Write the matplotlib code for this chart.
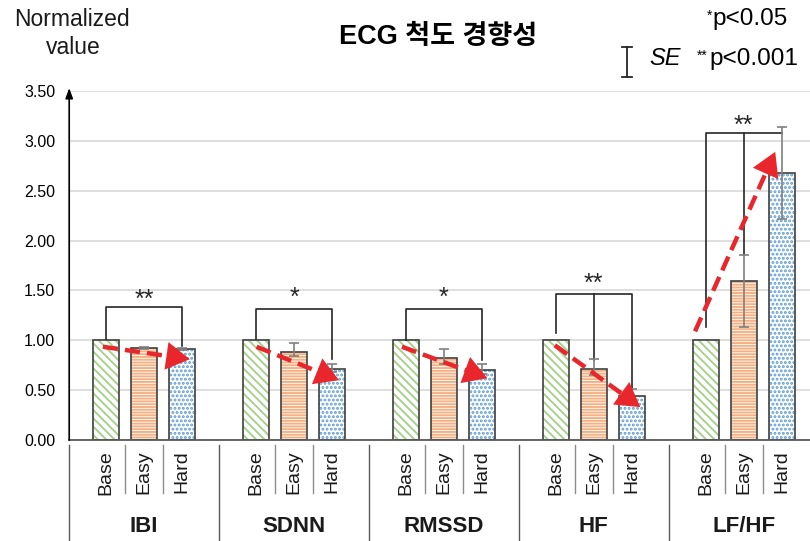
import numpy as np
import matplotlib
matplotlib.use('Agg')
import matplotlib.pyplot as plt
import matplotlib.transforms as mtransforms
from matplotlib.lines import Line2D

plt.rcParams['font.family'] = ['Liberation Sans', 'Noto Sans CJK KR', 'DejaVu Sans']
plt.rcParams['hatch.linewidth'] = 1.4

# 데이터 (Base 기준 정규화 값)
metrics = ['IBI', 'SDNN', 'RMSSD', 'HF', 'LF/HF']
conditions = ['Base', 'Easy', 'Hard']
base_vals = [1.00, 1.00, 1.00, 1.00, 1.00]
easy_vals = [0.92, 0.88, 0.82, 0.715, 1.59]
hard_vals = [0.91, 0.715, 0.70, 0.445, 2.68]
easy_err_lo = [0.01, 0.04, 0.06, 0.065, 0.46]
easy_err_hi = [0.01, 0.09, 0.09, 0.095, 0.265]
hard_err_lo = [0.01, 0.03, 0.04, 0.05, 0.46]
hard_err_hi = [0.01, 0.045, 0.06, 0.065, 0.46]
yticks = [0.0, 0.5, 1.0, 1.5, 2.0, 2.5, 3.0, 3.5]

# 유의성 브래킷
bracket_y = [1.33, 1.31, 1.31, 1.46, 3.08]
bracket_base_end = [1.01, 1.01, 1.00, 1.07, 1.13]
bracket_easy_end = [None, None, None, 0.80, 1.855]
bracket_hard_end = [0.94, 0.81, 0.80, 0.525, 3.08]
stars = ['**', '*', '*', '**', '**']
star_y = [1.48, 1.50, 1.50, 1.64, 3.23]

# 추세 화살표 (그룹 중심 기준 x 오프셋)
arrow_x0 = [-0.275, -0.25, -0.28, -0.26, -0.325]
arrow_x1 = [0.305, 0.30, 0.29, 0.31, 0.21]
arrow_y0 = [0.935, 0.935, 0.935, 0.95, 1.09]
arrow_y1 = [0.81, 0.60, 0.62, 0.33, 2.89]

W, H = 810, 541
fig = plt.figure(figsize=(W / 100, H / 100), dpi=100)
ax = fig.add_axes([69.2 / W, (H - 440) / H, (W - 69.2) / W, 349 / H])


def fx(px):
    return px / W


def fy(py):
    return 1 - py / H


x = np.arange(len(metrics))
off = 0.2535
w = 0.1735
colors = ['#A9D18E', '#F4B183', '#5B9BD5']
hatches = ['\\' * 4, '-' * 6, '.' * 4]

# 막대 (해치 + 테두리)
for vals, dx, col, hatch in zip([base_vals, easy_vals, hard_vals], [-off, 0, off], colors, hatches):
    ax.bar(x + dx, vals, w, color='white', edgecolor=col, linewidth=0, hatch=hatch, zorder=2)
    ax.bar(x + dx, vals, w, fill=False, edgecolor='#404040', linewidth=1.2, zorder=2.5)

# 오차 막대
ax.errorbar(x, easy_vals, yerr=[easy_err_lo, easy_err_hi], fmt='none', ecolor='#808080',
            elinewidth=1.2, capsize=3.5, capthick=1.2, zorder=4)
ax.errorbar(x + off, hard_vals, yerr=[hard_err_lo, hard_err_hi], fmt='none', ecolor='#808080',
            elinewidth=1.2, capsize=3.5, capthick=1.2, zorder=4)

ax.set_xlim(-0.5, (W - 69.2) / 149.9 - 0.5)
ax.set_ylim(0, 3.5)

# 브래킷 + 별표
for i in range(len(metrics)):
    xb, xe, xh = x[i] - off, x[i], x[i] + off
    yb = bracket_y[i]
    ax.plot([xb, xb, xh, xh], [bracket_base_end[i], yb, yb, bracket_hard_end[i]],
            color='#262626', lw=1.2, zorder=3)
    if bracket_easy_end[i] is not None:
        ax.plot([xe, xe], [yb, bracket_easy_end[i]], color='#262626', lw=1.2, zorder=3)
    ax.text(x[i], star_y[i] - 0.145, stars[i], ha='center', va='baseline', fontsize=18, color='#262626')

# 빨간 점선 화살표
red = '#E8262B'
for i in range(len(metrics)):
    x0, y0 = x[i] + arrow_x0[i], arrow_y0[i]
    x1, y1 = x[i] + arrow_x1[i], arrow_y1[i]
    p0 = ax.transData.transform((x0, y0))
    p1 = ax.transData.transform((x1, y1))
    L = np.hypot(*(p1 - p0))
    f = 1 - 14 / L
    ax.plot([x0, x0 + f * (x1 - x0)], [y0, y0 + f * (y1 - y0)], color=red, lw=3.2,
            ls=(0, (3.4, 1.6)), dash_capstyle='butt', zorder=5)
    ax.annotate('', xy=(x1, y1), xytext=(x0, y0),
                arrowprops=dict(arrowstyle='-|>,head_length=0.85,head_width=0.5', mutation_scale=20,
                                lw=0, color=red, shrinkA=0, shrinkB=0), zorder=6)

# 축 스타일
for s in ['top', 'right', 'left']:
    ax.spines[s].set_visible(False)
ax.spines['bottom'].set_color('#595959')
ax.spines['bottom'].set_linewidth(1.3)
ax.set_yticks(yticks)
ax.set_yticklabels([f'{v:.2f}' for v in yticks])
ax.tick_params(axis='y', length=0, pad=10, labelsize=11.5)
ax.set_xticks([])
ax.yaxis.grid(True, color='#D9D9D9', lw=1.2)
ax.set_axisbelow(True)

# y축 화살표
ax.annotate('', xy=(-0.5, 3.53), xytext=(-0.5, 0),
            arrowprops=dict(arrowstyle='-|>,head_length=0.6,head_width=0.22', mutation_scale=10,
                            lw=1.2, color='black', shrinkA=0, shrinkB=0),
            annotation_clip=False)

# x축 아래 라벨 및 구분선
trans = mtransforms.blended_transform_factory(ax.transData, ax.transAxes)
for i in range(len(metrics)):
    for j, c in enumerate(conditions):
        ax.text(x[i] + (j - 1) * off, -0.030, c, rotation=90, ha='center', va='top',
                transform=trans, fontsize=14, color='#1a1a1a')
    for sx in [x[i] - off / 2, x[i] + off / 2]:
        ax.plot([sx, sx], [-0.0143, -0.152], color='#8c8c8c', lw=1.0, transform=trans, clip_on=False)
    ax.plot([x[i] - 0.5, x[i] - 0.5], [-0.0143, -0.30], color='#595959', lw=1.0, transform=trans,
            clip_on=False)
    ax.text(x[i], -0.249, metrics[i], ha='center', va='center', transform=trans,
            fontsize=16, fontweight='bold', color='#1a1a1a')

# 제목 및 주석
fig.text(fx(438), fy(37), 'ECG 척도 경향성', ha='center', va='center', fontsize=19.5, fontweight='bold')
fig.text(fx(72), fy(20), 'Normalized', ha='center', va='center', fontsize=16.5, color='#1a1a1a')
fig.text(fx(73), fy(47), 'value', ha='center', va='center', fontsize=16.5, color='#1a1a1a')

fig.text(fx(707), fy(19.5), '*', fontsize=10, va='baseline')
fig.text(fx(712), fy(25), 'p<0.05', fontsize=17.5, va='baseline')
fig.text(fx(697), fy(60), '**', fontsize=10, va='baseline')
fig.text(fx(709), fy(65), 'p<0.001', fontsize=17.5, va='baseline')
fig.text(fx(649), fy(65), 'SE', fontsize=17, style='italic', va='baseline')
fig.add_artist(Line2D([fx(626.7), fx(626.7)], [fy(47), fy(77)], color='#262626', lw=1.3))
fig.add_artist(Line2D([fx(621.5), fx(632)], [fy(47), fy(47)], color='#262626', lw=1.3))
fig.add_artist(Line2D([fx(621.5), fx(632)], [fy(77), fy(77)], color='#262626', lw=1.3))

fig.savefig('out.png', dpi=100)
